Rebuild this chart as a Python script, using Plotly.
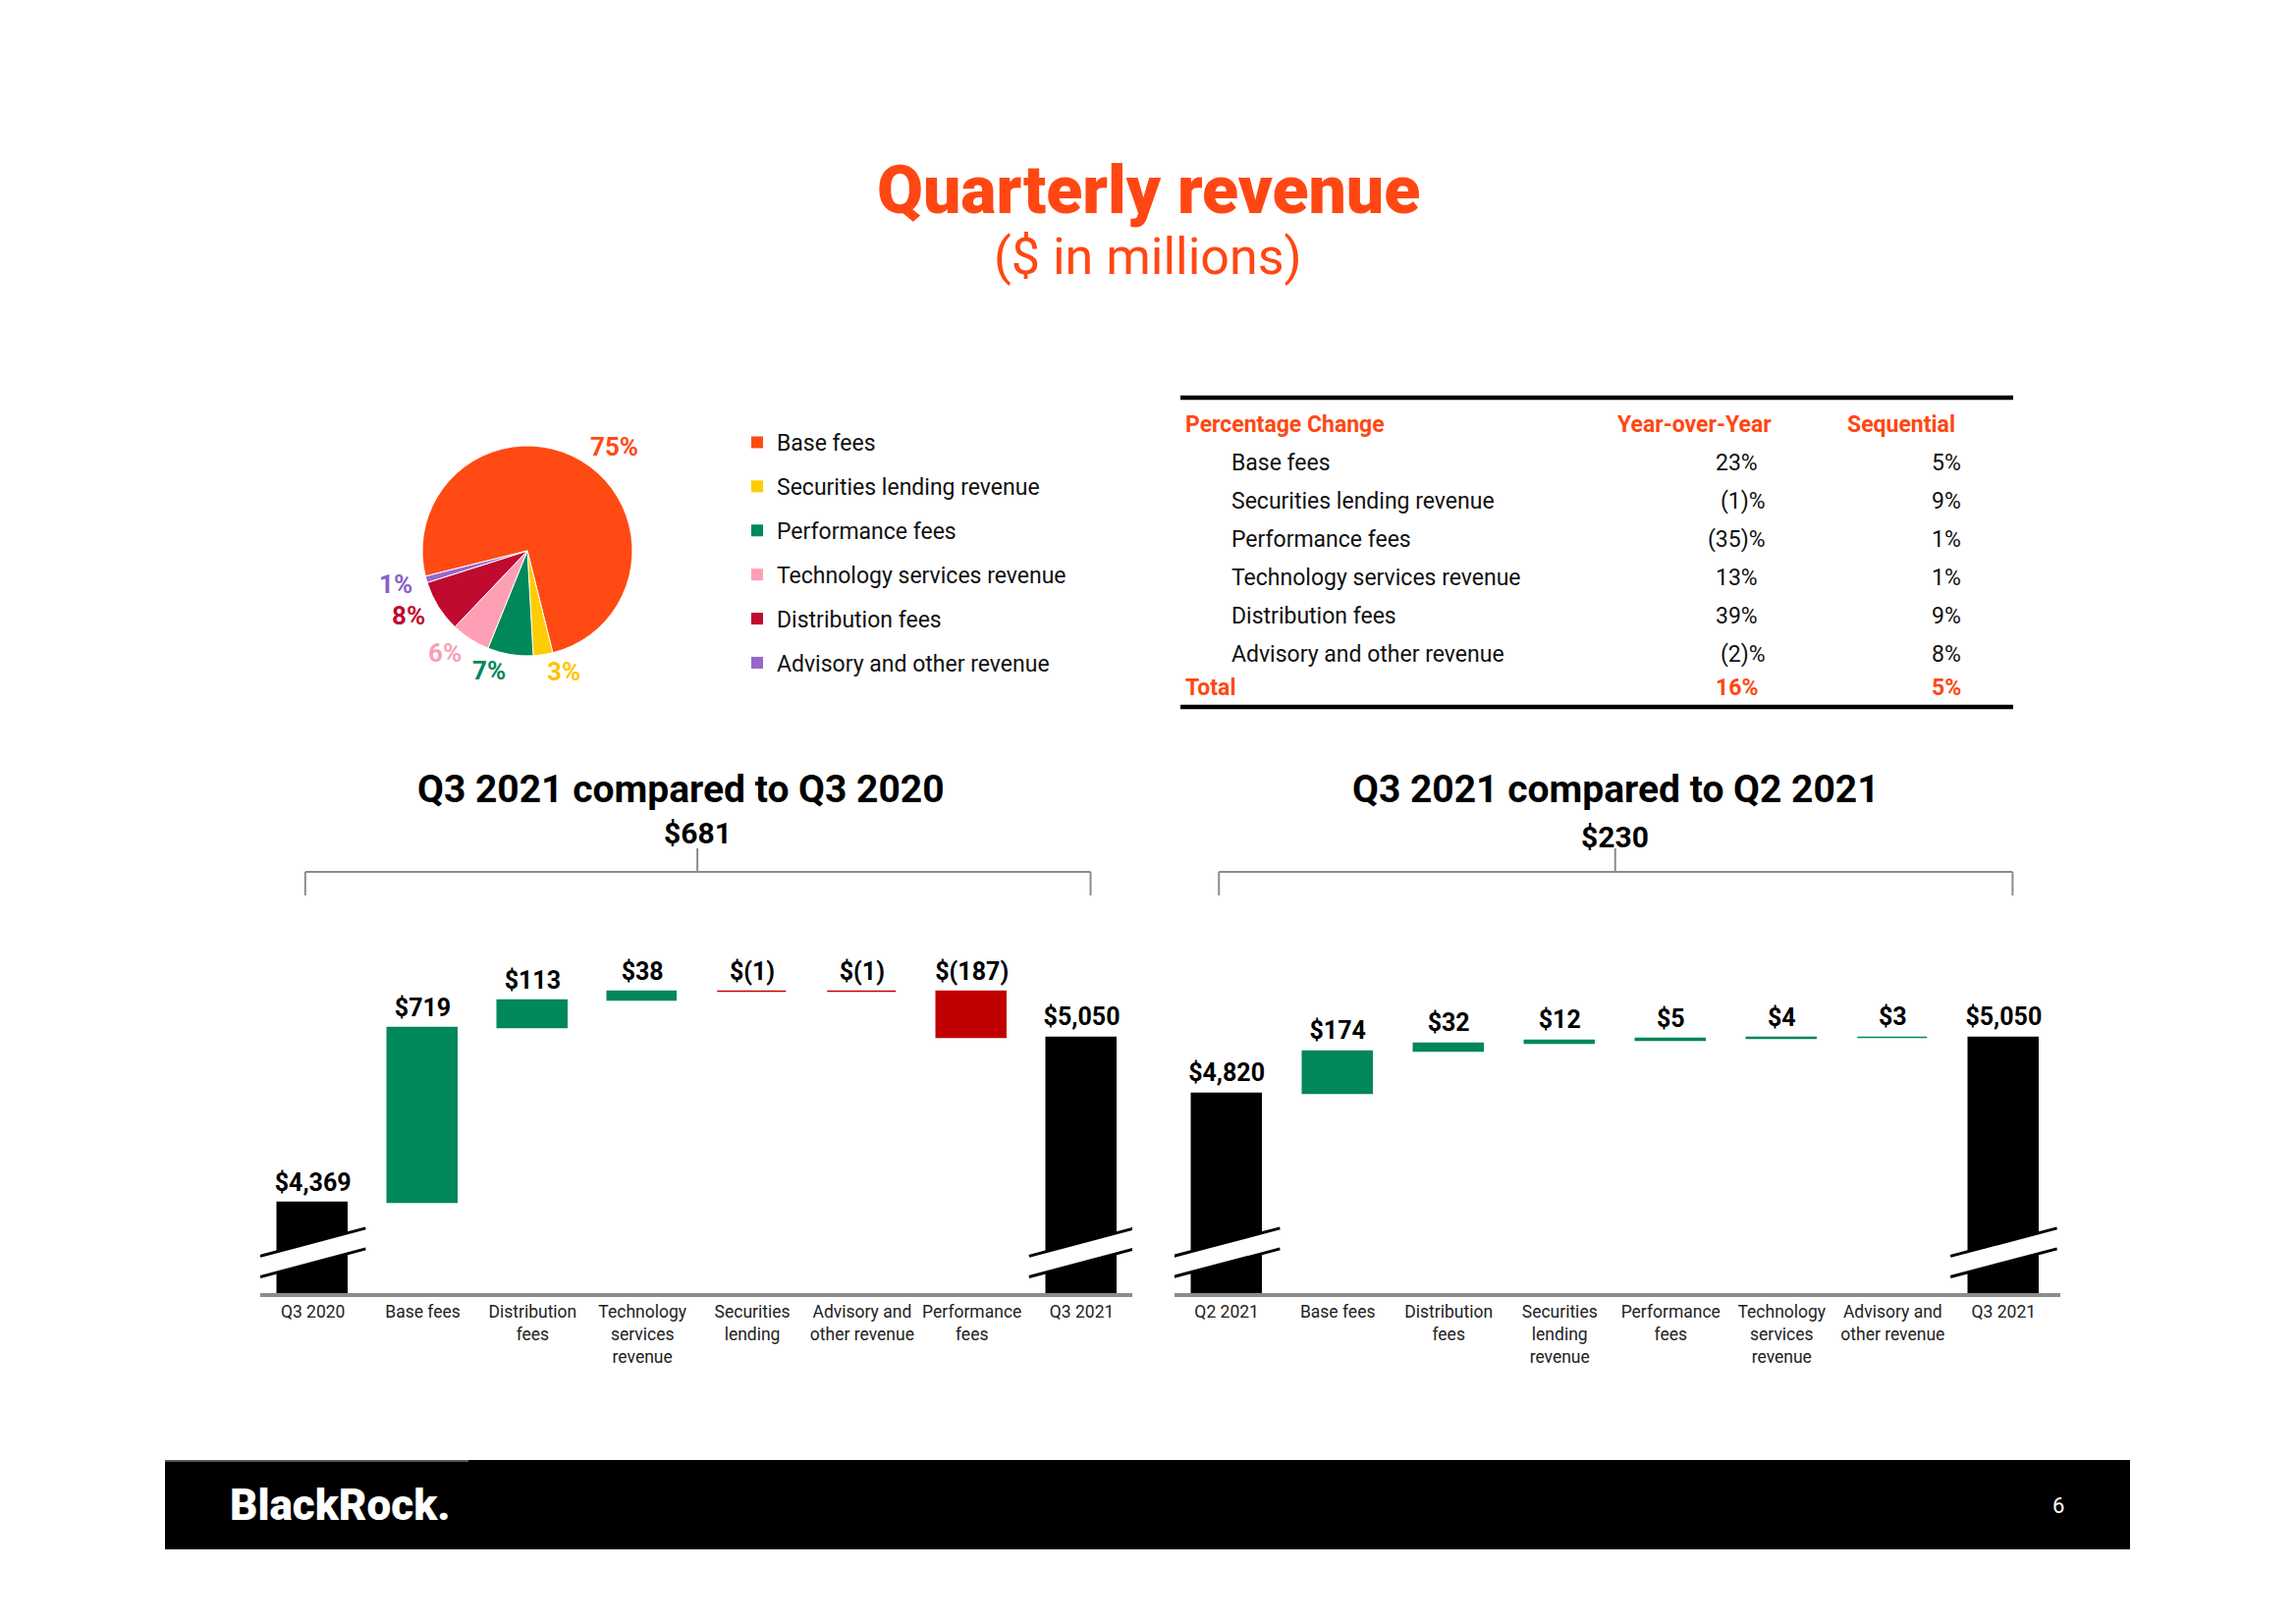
import math
import plotly.graph_objects as go

W, H = 2338, 1653


def px(x):
    return x / W


def py(y):
    return 1 - y / H


ORANGE = "#FF4713"
GREEN = "#00875A"
RED = "#C00000"
GRAY = "#8C8C8C"
FONT = "Roboto"

# ---------------- data ----------------
pie_labels = ["Base fees", "Securities lending revenue", "Performance fees",
              "Technology services revenue", "Distribution fees", "Advisory and other revenue"]
pie_pct = [75, 3, 7, 6, 8, 1]
pie_colors = ["#FF4A14", "#FFCC00", "#00875A", "#FF9FB6", "#C00A2F", "#9966CC"]
pie_text_colors = ["#FF4A14", "#FFC400", "#00875A", "#F7A1B5", "#C00A2F", "#8C5FC8"]

table_header = ["Percentage Change", "Year-over-Year", "Sequential"]
table_rows = ["Base fees", "Securities lending revenue", "Performance fees",
              "Technology services revenue", "Distribution fees", "Advisory and other revenue"]
table_yoy = ["23%", "(1)%", "(35)%", "13%", "39%", "(2)%"]
table_seq = ["5%", "9%", "1%", "1%", "9%", "8%"]
total_label = "Total"
total_yoy = "16%"
total_seq = "5%"

wf1_title = "Q3 2021 compared to Q3 2020"
wf1_ticks = ["Q3 2020", "Base fees", "Distribution<br>fees", "Technology<br>services<br>revenue",
             "Securities<br>lending", "Advisory and<br>other revenue", "Performance<br>fees", "Q3 2021"]
wf1_values = [4369, 719, 113, 38, -1, -1, -187, 5050]
wf1_measure = ["absolute", "relative", "relative", "relative", "relative", "relative", "relative", "total"]
wf1_change = 681

wf2_title = "Q3 2021 compared to Q2 2021"
wf2_ticks = ["Q2 2021", "Base fees", "Distribution<br>fees", "Securities<br>lending<br>revenue",
             "Performance<br>fees", "Technology<br>services<br>revenue", "Advisory and<br>other revenue", "Q3 2021"]
wf2_values = [4820, 174, 32, 12, 5, 4, 3, 5050]
wf2_measure = ["absolute", "relative", "relative", "relative", "relative", "relative", "relative", "total"]
wf2_change = 230

Y_RANGE = [4000, 5400]
PX_PER_UNIT = 0.2476          # vertical pixels per $1M on the waterfall axes
LABEL_PAD = 26                # extra lift of the value labels, in $M


def money(v):
    return f"${v:,}" if v >= 0 else f"$({-v:,})"


def waterfall(values, measures):
    bases, heights, tops, colors = [], [], [], []
    cum = 0
    for v, m in zip(values, measures):
        if m in ("absolute", "total"):
            cum = v
            bases.append(0)
            heights.append(v)
            tops.append(v)
            colors.append("#000000")
        else:
            start, end = cum, cum + v
            bases.append(min(start, end))
            heights.append(abs(v))
            tops.append(max(start, end))
            colors.append(GREEN if v > 0 else RED)
            cum = end
    return bases, heights, tops, colors


fig = go.Figure()
shapes = []
annotations = []

# ---------------- pie ----------------
PIE_CX, PIE_CY, PIE_R = 537, 561, 107
PIE_ROT = -104  # degrees clockwise from 12 o'clock where the first slice starts
fig.add_trace(go.Pie(
    labels=pie_labels, values=pie_pct, sort=False, direction="clockwise", rotation=PIE_ROT,
    marker=dict(colors=pie_colors, line=dict(color="white", width=1)),
    textinfo="none",
    domain=dict(x=[px(PIE_CX - PIE_R), px(PIE_CX + PIE_R)], y=[py(PIE_CY + PIE_R), py(PIE_CY - PIE_R)]),
    showlegend=False, hoverinfo="label+percent",
))

# outside percentage labels, placed at each slice's mid-angle
tot = sum(pie_pct)
acc = 0
for v, col in zip(pie_pct, pie_text_colors):
    mid = math.radians(PIE_ROT + (acc + v / 2) / tot * 360)
    acc += v
    s, c = math.sin(mid), math.cos(mid)
    r = PIE_R + 13
    lx = PIE_CX + r * s
    ly = PIE_CY - r * c - c * 4
    annotations.append(dict(x=px(lx), y=py(ly), text=f"<b>{v}%</b>",
                            xanchor="left" if s >= 0 else "right", yanchor="middle",
                            font=dict(size=26, color=col, family=FONT)))

# legend via marker-only traces
for lab, col in zip(pie_labels, pie_colors):
    fig.add_trace(go.Scatter(
        x=[None], y=[None], mode="markers", name=lab, legendgroup=lab,
        marker=dict(symbol="square", size=12, color=col), xaxis="x", yaxis="y",
    ))

# ---------------- waterfalls ----------------
charts = [
    (wf1_values, wf1_measure, wf1_ticks, "x", "y"),
    (wf2_values, wf2_measure, wf2_ticks, "x2", "y2"),
]
for values, measures, ticks, xa, ya in charts:
    bases, heights, tops, colors = waterfall(values, measures)
    idx = list(range(len(values)))
    fig.add_trace(go.Bar(
        x=idx, y=heights, base=bases, width=0.63,
        marker=dict(color=colors, line=dict(color=colors, width=1.5)),
        xaxis=xa, yaxis=ya, showlegend=False, hoverinfo="skip",
    ))
    fig.add_trace(go.Scatter(
        x=idx, y=[t + LABEL_PAD for t in tops], mode="text",
        text=[f"<b>{money(v)}</b>" for v in values],
        textposition="top center", textfont=dict(size=25, color="#000000", family=FONT),
        xaxis=xa, yaxis=ya, showlegend=False, cliponaxis=False, hoverinfo="skip",
    ))

# broken-axis marks on total bars
BREAK_MID, BREAK_GAP, BREAK_SLOPE, BREAK_HALF = 4167, 85, 120, 0.48
for values, measures, ticks, xa, ya in charts:
    for i, m in enumerate(measures):
        if m not in ("absolute", "total"):
            continue
        x0, x1 = i - BREAK_HALF, i + BREAK_HALF
        up0 = BREAK_MID + BREAK_GAP / 2 - BREAK_SLOPE * BREAK_HALF
        up1 = BREAK_MID + BREAK_GAP / 2 + BREAK_SLOPE * BREAK_HALF
        lo0 = up0 - BREAK_GAP
        lo1 = up1 - BREAK_GAP
        shapes.append(dict(type="path", xref=xa, yref=ya,
                           path=f"M {x0},{up0} L {x1},{up1} L {x1},{lo1} L {x0},{lo0} Z",
                           fillcolor="white", line=dict(width=0), layer="above"))
        for a, b in ((up0, up1), (lo0, lo1)):
            shapes.append(dict(type="line", xref=xa, yref=ya, x0=x0, y0=a, x1=x1, y1=b,
                               line=dict(color="black", width=3), layer="above"))

# brackets and chart titles
for (values, measures, ticks, xa, ya), change, title, tx, cy in (
        (charts[0], wf1_change, wf1_title, 693, 848), (charts[1], wf2_change, wf2_title, 1645, 853)):
    n = len(values) - 1
    xl, xr, xm = -0.07, n + 0.08, n / 2
    yb, yd, yt = py(888), py(912), py(864)
    bl = dict(color=GRAY, width=2)
    shapes += [
        dict(type="line", xref=xa, yref="paper", x0=xl, x1=xr, y0=yb, y1=yb, line=bl),
        dict(type="line", xref=xa, yref="paper", x0=xl, x1=xl, y0=yb, y1=yd, line=bl),
        dict(type="line", xref=xa, yref="paper", x0=xr, x1=xr, y0=yb, y1=yd, line=bl),
        dict(type="line", xref=xa, yref="paper", x0=xm, x1=xm, y0=yb, y1=yt, line=bl),
    ]
    annotations.append(dict(x=xm, y=py(cy), xref=xa, yref="paper", text=f"<b>{money(change)}</b>",
                            xanchor="center", yanchor="middle",
                            font=dict(size=30, color="black", family=FONT)))
    annotations.append(dict(x=px(tx), y=py(804), text=f"<b>{title}</b>", xanchor="center",
                            font=dict(size=39, color="black", family=FONT)))

# ---------------- table ----------------
for yl in (405, 720):
    shapes.append(dict(type="line", xref="paper", yref="paper", x0=px(1202), x1=px(2050),
                       y0=py(yl), y1=py(yl), line=dict(color="black", width=4.5)))

TF = 23
annotations.append(dict(x=px(1205), y=py(432), text=f"<b>{table_header[0]}</b>", xanchor="left",
                        font=dict(size=TF, color=ORANGE, family=FONT)))
annotations.append(dict(x=px(1725), y=py(432), text=f"<b>{table_header[1]}</b>", xanchor="center",
                        font=dict(size=TF, color=ORANGE, family=FONT)))
annotations.append(dict(x=px(1993), y=py(432), text=f"<b>{table_header[2]}</b>", xanchor="right",
                        font=dict(size=TF, color=ORANGE, family=FONT)))


def yoy_x(s):
    return px(1800) if s.startswith("(") else px(1792)


for i, (lab, yv, sv) in enumerate(zip(table_rows, table_yoy, table_seq)):
    y = py(471 + 39 * i)
    annotations.append(dict(x=px(1252), y=y, text=lab, xanchor="left",
                            font=dict(size=TF, color="#111111", family=FONT)))
    annotations.append(dict(x=yoy_x(yv), y=y, text=yv, xanchor="right",
                            font=dict(size=TF, color="#111111", family=FONT)))
    annotations.append(dict(x=px(1999), y=y, text=sv, xanchor="right",
                            font=dict(size=TF, color="#111111", family=FONT)))
yt_ = py(700)
annotations.append(dict(x=px(1205), y=yt_, text=f"<b>{total_label}</b>", xanchor="left",
                        font=dict(size=TF, color=ORANGE, family=FONT)))
annotations.append(dict(x=yoy_x(total_yoy), y=yt_, text=f"<b>{total_yoy}</b>", xanchor="right",
                        font=dict(size=TF, color=ORANGE, family=FONT)))
annotations.append(dict(x=px(1999), y=yt_, text=f"<b>{total_seq}</b>", xanchor="right",
                        font=dict(size=TF, color=ORANGE, family=FONT)))

# ---------------- titles ----------------
annotations.append(dict(x=px(1169), y=py(194), text="Quarterly revenue", xanchor="center",
                        font=dict(size=68, color=ORANGE, family=FONT, weight=900)))
annotations.append(dict(x=px(1169), y=py(262), text="($ in millions)", xanchor="center",
                        font=dict(size=52, color=ORANGE, family=FONT)))

# ---------------- footer ----------------
shapes.append(dict(type="rect", xref="paper", yref="paper", x0=px(168), x1=px(2169),
                   y0=py(1578), y1=py(1487), fillcolor="black", line=dict(width=0), layer="below"))
shapes.append(dict(type="line", xref="paper", yref="paper", x0=px(168), x1=px(477),
                   y0=py(1488), y1=py(1488), line=dict(color="#555555", width=2)))
annotations.append(dict(x=px(232), y=py(1533), text="BlackRock.", xanchor="left",
                        font=dict(size=44, color="white", family=FONT, weight=900)))
annotations.append(dict(x=px(2096), y=py(1533), text="6", xanchor="center",
                        font=dict(size=22, color="white", family=FONT)))

for a in annotations:
    a.setdefault("xref", "paper")
    a.setdefault("yref", "paper")
    a.setdefault("showarrow", False)
    a.setdefault("yanchor", "middle")

axis_common = dict(showline=True, linecolor=GRAY, linewidth=4, ticks="", showgrid=False,
                   zeroline=False, fixedrange=True,
                   tickfont=dict(size=17.5, color="#222222", family=FONT))
ydom = [py(1317), py(1317 - (Y_RANGE[1] - Y_RANGE[0]) * PX_PER_UNIT)]

fig.update_layout(
    width=W, height=H, margin=dict(l=0, r=0, t=0, b=0),
    paper_bgcolor="white", plot_bgcolor="white",
    font=dict(family=FONT, color="#111111"),
    xaxis=dict(domain=[px(265), px(1153)], range=[-0.48, 7.46], tickvals=list(range(8)),
               ticktext=wf1_ticks, anchor="y", **axis_common),
    yaxis=dict(domain=ydom, range=Y_RANGE, visible=False, anchor="x", fixedrange=True),
    xaxis2=dict(domain=[px(1196), px(2098)], range=[-0.47, 7.51], tickvals=list(range(8)),
                ticktext=wf2_ticks, anchor="y2", **axis_common),
    yaxis2=dict(domain=ydom, range=Y_RANGE, visible=False, anchor="x2", fixedrange=True),
    legend=dict(x=px(751), y=py(429), xanchor="left", yanchor="top", bgcolor="rgba(0,0,0,0)",
                font=dict(size=23, color="#111111", family=FONT), traceorder="grouped",
                tracegroupgap=12, itemclick=False, itemdoubleclick=False),
    shapes=shapes, annotations=annotations, bargap=0, showlegend=True,
)

fig.write_html("out.html", include_plotlyjs=True, config={"displayModeBar": False},
               post_script="document.body.style.margin='0';document.body.style.overflow='hidden';")
